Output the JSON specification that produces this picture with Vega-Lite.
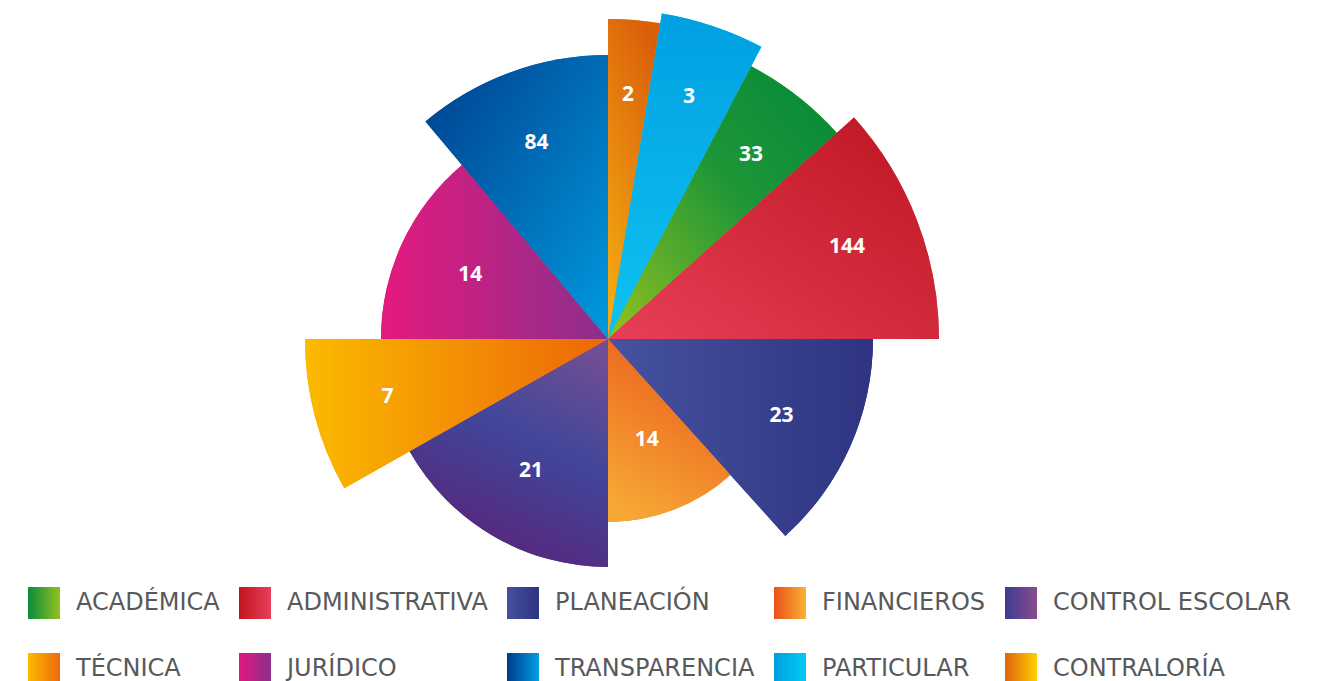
{
  "$schema": "https://vega.github.io/schema/vega-lite/v6.json",
  "width": 1216,
  "height": 678,
  "padding": 0,
  "autosize": {"type": "pad"},
  "background": "white",
  "data": {
    "values": [
      {"orden": 1, "area": "CONTRALORÍA", "total": 2, "amplitud": 9.4, "alcance": 320},
      {"orden": 2, "area": "PARTICULAR", "total": 3, "amplitud": 18.3, "alcance": 330},
      {"orden": 3, "area": "ACADÉMICA", "total": 33, "amplitud": 20.3, "alcance": 308},
      {"orden": 4, "area": "ADMINISTRATIVA", "total": 144, "amplitud": 42, "alcance": 331},
      {"orden": 5, "area": "PLANEACIÓN", "total": 23, "amplitud": 48, "alcance": 265},
      {"orden": 6, "area": "FINANCIEROS", "total": 14, "amplitud": 42, "alcance": 183},
      {"orden": 7, "area": "CONTROL ESCOLAR", "total": 21, "amplitud": 60.5, "alcance": 228},
      {"orden": 8, "area": "TÉCNICA", "total": 7, "amplitud": 29.5, "alcance": 303},
      {"orden": 9, "area": "JURÍDICO", "total": 14, "amplitud": 50, "alcance": 227},
      {"orden": 10, "area": "TRANSPARENCIA", "total": 84, "amplitud": 40, "alcance": 284}
    ]
  },
  "transform": [
    {"stack": "amplitud", "groupby": [], "sort": [{"field": "orden", "order": "ascending"}], "as": ["inicio", "fin"]}
  ],
  "layer": [
    {
      "mark": {"type": "arc"},
      "encoding": {
        "theta": {"field": "inicio", "type": "quantitative", "stack": null, "scale": {"domain": [0, 360]}},
        "theta2": {"field": "fin"},
        "radius": {"field": "alcance", "type": "quantitative", "scale": {"type": "linear", "domain": [0, 400], "range": [0, 400], "zero": true}},
        "color": {
          "field": "area",
          "type": "nominal",
          "scale": {
            "domain": ["ACADÉMICA", "ADMINISTRATIVA", "PLANEACIÓN", "FINANCIEROS", "CONTROL ESCOLAR", "TÉCNICA", "JURÍDICO", "TRANSPARENCIA", "PARTICULAR", "CONTRALORÍA"],
            "range": [
              {"expr": "{gradient: 'linear', x1: 0, y1: 0, x2: 1, y2: 0, stops: [{offset: 0, color: '#098C3B'}, {offset: 1, color: '#93C01F'}]}"},
              {"expr": "{gradient: 'linear', x1: 0, y1: 0, x2: 1, y2: 0, stops: [{offset: 0, color: '#C1141F'}, {offset: 1, color: '#E8405A'}]}"},
              {"expr": "{gradient: 'linear', x1: 0, y1: 0, x2: 1, y2: 0, stops: [{offset: 0, color: '#4551A0'}, {offset: 1, color: '#2D3381'}]}"},
              {"expr": "{gradient: 'linear', x1: 0, y1: 0, x2: 1, y2: 0, stops: [{offset: 0, color: '#E8501A'}, {offset: 1, color: '#F9B233'}]}"},
              {"expr": "{gradient: 'linear', x1: 0, y1: 0, x2: 1, y2: 0, stops: [{offset: 0, color: '#3C3D91'}, {offset: 1, color: '#8A4B8E'}]}"},
              {"expr": "{gradient: 'linear', x1: 0, y1: 0, x2: 1, y2: 0, stops: [{offset: 0, color: '#FBBA00'}, {offset: 1, color: '#EC6A0A'}]}"},
              {"expr": "{gradient: 'linear', x1: 0, y1: 0, x2: 1, y2: 0, stops: [{offset: 0, color: '#E2197F'}, {offset: 1, color: '#8A2F8C'}]}"},
              {"expr": "{gradient: 'linear', x1: 0, y1: 0, x2: 1, y2: 0, stops: [{offset: 0, color: '#003A8A'}, {offset: 1, color: '#009FE3'}]}"},
              {"expr": "{gradient: 'linear', x1: 0, y1: 0, x2: 1, y2: 0, stops: [{offset: 0, color: '#009EE0'}, {offset: 1, color: '#00CCF5'}]}"},
              {"expr": "{gradient: 'linear', x1: 0, y1: 0, x2: 1, y2: 0, stops: [{offset: 0, color: '#DE6310'}, {offset: 1, color: '#FFD200'}]}"}
            ]
          },
          "legend": {
            "title": null,
            "orient": "none",
            "legendX": 28,
            "legendY": 587,
            "direction": "horizontal",
            "columns": 5,
            "gridAlign": "each",
            "symbolType": "square",
            "symbolSize": 1024,
            "symbolStrokeWidth": 0,
            "symbolOpacity": 1,
            "labelFont": "DejaVu Sans",
            "labelFontSize": 24,
            "labelColor": "#58595B",
            "labelOffset": 16,
            "labelLimit": 400,
            "columnPadding": 19,
            "rowPadding": 34,
            "padding": 0
          }
        }
      }
    },
    {
      "mark": {"type": "arc"},
      "encoding": {
        "theta": {"field": "inicio", "type": "quantitative", "stack": null},
        "theta2": {"field": "fin"},
        "radius": {"field": "alcance", "type": "quantitative"},
        "fill": {
          "field": "area",
          "type": "nominal",
          "legend": null,
          "scale": {
            "domain": ["ACADÉMICA", "ADMINISTRATIVA", "PLANEACIÓN", "FINANCIEROS", "CONTROL ESCOLAR", "TÉCNICA", "JURÍDICO", "TRANSPARENCIA", "PARTICULAR", "CONTRALORÍA"],
            "range": [
              {"expr": "{gradient: 'linear', x1: 1, y1: 0, x2: 0, y2: 1, stops: [{offset: 0, color: '#03883A'}, {offset: 0.45, color: '#1E9637'}, {offset: 1, color: '#94C11F'}]}"},
              {"expr": "{gradient: 'linear', x1: 1, y1: 0, x2: 0, y2: 1, stops: [{offset: 0, color: '#BC1520'}, {offset: 1, color: '#E83F57'}]}"},
              {"expr": "{gradient: 'linear', x1: 0, y1: 0, x2: 1, y2: 0, stops: [{offset: 0, color: '#4652A0'}, {offset: 1, color: '#2E3481'}]}"},
              {"expr": "{gradient: 'linear', x1: 0.7, y1: 0, x2: 0.3, y2: 1, stops: [{offset: 0, color: '#E95A1B'}, {offset: 1, color: '#F7A735'}]}"},
              {"expr": "{gradient: 'linear', x1: 0.8, y1: 0, x2: 0.4, y2: 1, stops: [{offset: 0, color: '#714E93'}, {offset: 0.45, color: '#40469A'}, {offset: 1, color: '#5A2379'}]}"},
              {"expr": "{gradient: 'linear', x1: 0, y1: 0, x2: 1, y2: 0, stops: [{offset: 0, color: '#FBBA00'}, {offset: 1, color: '#EC6608'}]}"},
              {"expr": "{gradient: 'linear', x1: 0, y1: 0, x2: 1, y2: 0, stops: [{offset: 0, color: '#E5197E'}, {offset: 1, color: '#8B2F8C'}]}"},
              {"expr": "{gradient: 'linear', x1: 0, y1: 0, x2: 1, y2: 1, stops: [{offset: 0, color: '#003E8D'}, {offset: 1, color: '#009ADF'}]}"},
              {"expr": "{gradient: 'linear', x1: 0.5, y1: 0, x2: 0.5, y2: 1, stops: [{offset: 0, color: '#00A0E1'}, {offset: 1, color: '#10C2F2'}]}"},
              {"expr": "{gradient: 'linear', x1: 0.7, y1: 0, x2: 0.3, y2: 1, stops: [{offset: 0, color: '#D95E0A'}, {offset: 1, color: '#F4AA12'}]}"}
            ]
          }
        }
      }
    },
    {
      "transform": [
        {"fold": ["inicio", "fin"], "as": ["borde", "angulo"]},
        {"aggregate": [{"op": "mean", "field": "angulo", "as": "medio"}], "groupby": ["area", "total", "alcance"]}
      ],
      "mark": {"type": "text", "radiusOffset": -75, "font": "Open Sans", "fontSize": 21, "fontWeight": "bold", "color": "white", "align": "center", "baseline": "middle"},
      "encoding": {
        "theta": {"field": "medio", "type": "quantitative", "stack": null},
        "radius": {"field": "alcance", "type": "quantitative"},
        "text": {"field": "total", "type": "quantitative"}
      }
    }
  ],
  "config": {"view": {"stroke": null}}
}
